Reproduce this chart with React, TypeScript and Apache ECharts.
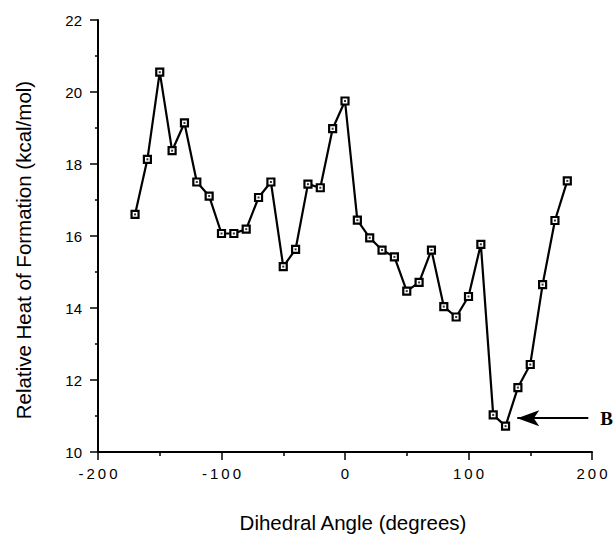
import React, { useEffect, useRef } from 'react';
import * as echarts from 'echarts';

const angles = [-170, -160, -150, -140, -130, -120, -110, -100, -90, -80, -70, -60, -50, -40, -30, -20, -10, 0,
  10, 20, 30, 40, 50, 60, 70, 80, 90, 100, 110, 120, 130, 140, 150, 160, 170, 180];
const heats = [16.6, 18.13, 20.55, 18.37, 19.14, 17.5, 17.11, 16.07, 16.07, 16.19, 17.07, 17.5, 15.15, 15.63, 17.44, 17.34, 18.98, 19.75,
  16.44, 15.95, 15.61, 15.42, 14.47, 14.71, 15.61, 14.04, 13.75, 14.32, 15.77, 11.03, 10.72, 11.79, 12.43, 14.65, 16.43, 17.53];

const xTitle = 'Dihedral Angle (degrees)';
const yTitle = 'Relative Heat of Formation (kcal/mol)';
const annotationLabel = 'B';
const arrowFrom = [197, 10.94];
const arrowTo = [139.5, 10.94];

const FONT = '"Liberation Sans", Arial, Helvetica, sans-serif';

export default function App() {
  const ref = useRef<HTMLDivElement>(null);
  useEffect(() => {
    document.body.style.margin = '0';
    const chart = echarts.init(ref.current!, null, { renderer: 'svg' });
    const points = angles.map((a, i) => [a, heats[i]]);
    chart.setOption({
      animation: false,
      backgroundColor: '#fff',
      grid: { left: 98, right: 21, top: 20, bottom: 84 },
      xAxis: {
        type: 'value', min: -200, max: 200, interval: 100,
        axisLine: { show: true, onZero: false, lineStyle: { color: '#000', width: 2 } },
        axisTick: { show: true, length: 8, lineStyle: { color: '#000', width: 1.5 } },
        minorTick: { show: true, splitNumber: 2, length: 4, lineStyle: { color: '#000', width: 1.5 } },
        splitLine: { show: false },
        axisLabel: {
          color: '#000', fontFamily: FONT, fontSize: 15, margin: 14,
          formatter: (v: number) => String(v).split('').join('\u2009'),
        },
      },
      yAxis: {
        type: 'value', min: 10, max: 22, interval: 2,
        axisLine: { show: true, onZero: false, lineStyle: { color: '#000', width: 2 } },
        axisTick: { show: true, length: 8, lineStyle: { color: '#000', width: 1.5 } },
        minorTick: { show: true, splitNumber: 2, length: 3, lineStyle: { color: '#000', width: 1.5 } },
        splitLine: { show: false },
        axisLabel: { color: '#000', fontFamily: FONT, fontSize: 15, margin: 16 },
      },
      graphic: [
        { type: 'text', x: 353, y: 522, style: { text: xTitle, font: `20.5px ${FONT}`, fill: '#000', textAlign: 'center', textVerticalAlign: 'middle' } },
        { type: 'text', x: 23, y: 250, rotation: Math.PI / 2, style: { text: yTitle, font: `20.5px ${FONT}`, fill: '#000', textAlign: 'center', textVerticalAlign: 'middle' } },
      ],
      series: [
        {
          type: 'line', data: points, symbol: 'rect', symbolSize: 7, showSymbol: true,
          lineStyle: { color: '#000', width: 2.2 },
          itemStyle: { color: '#fff', borderColor: '#000', borderWidth: 2.2 },
          emphasis: { disabled: true }, silent: true,
          markLine: {
            silent: true, symbol: ['none', 'arrow'], symbolSize: [12, 22],
            lineStyle: { color: '#000', width: 2.2, type: 'solid' },
            label: {
              show: true, position: 'start', formatter: annotationLabel, distance: 12,
              color: '#000', fontFamily: '"Liberation Serif", "Times New Roman", serif', fontWeight: 'bold', fontSize: 19,
            },
            emphasis: { disabled: true },
            data: [[{ coord: arrowFrom }, { coord: arrowTo }]],
          },
        },
        {
          type: 'scatter', data: points, symbol: 'rect', symbolSize: 2,
          itemStyle: { color: '#000' }, silent: true, z: 5,
        },
      ],
    });
    return () => chart.dispose();
  }, []);
  return <div ref={ref} style={{ width: 613, height: 536 }} />;
}
